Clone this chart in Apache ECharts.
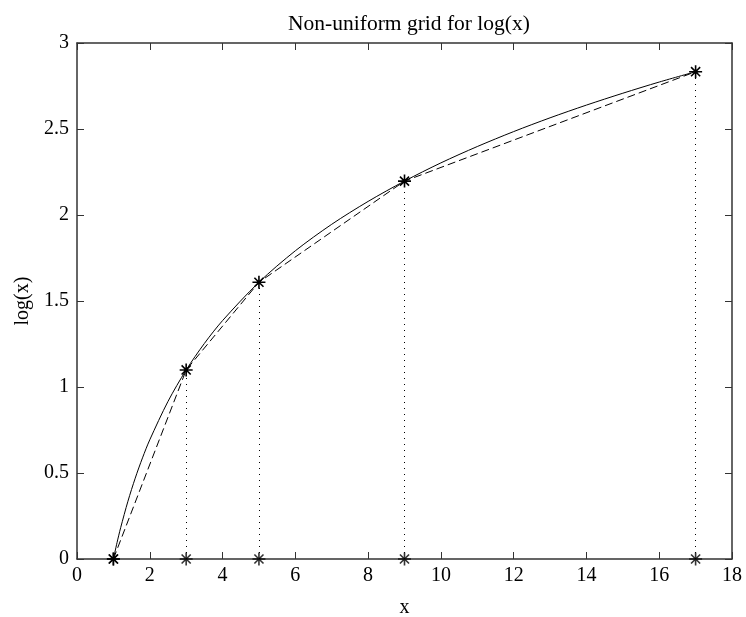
<!DOCTYPE html>
<html>
<head>
<meta charset="utf-8">
<script src="https://cdn.jsdelivr.net/npm/echarts@6/dist/echarts.min.js"></script>
<style>
  html, body { margin: 0; padding: 0; background: #fff; }
  #chart { width: 746px; height: 617px; }
</style>
</head>
<body>
<div id="chart"></div>
<script>
// smooth curve log(x)
const curveX = [1, 1.1, 1.2, 1.4, 1.6, 1.8, 2, 2.5, 3, 3.5, 4, 5, 6, 7, 8, 9, 10, 11, 12, 13, 14, 15, 16, 17];
const curveY = [0, 0.095, 0.182, 0.336, 0.47, 0.588, 0.693, 0.916, 1.099, 1.253, 1.386, 1.609, 1.792, 1.946, 2.079, 2.197, 2.303, 2.398, 2.485, 2.565, 2.639, 2.708, 2.773, 2.833];

// non-uniform grid points
const gridX = [1, 3, 5, 9, 17];
const gridY = [0, 1.099, 1.609, 2.197, 2.833];

const xTicks = [0, 2, 4, 6, 8, 10, 12, 14, 16, 18];
const yTicks = [0, 0.5, 1, 1.5, 2, 2.5, 3];

const font = 'Liberation Serif';
const axisColor = '#333';
const star = 'path://M0,-10L0,10M-10,0L10,0M-7,-7L7,7M-7,7L7,-7';

const dom = document.getElementById('chart');
const myChart = echarts.init(dom, null, { renderer: 'canvas' });

const curveData = curveX.map((x, i) => [x, curveY[i]]);
const gridData = gridX.map((x, i) => [x, gridY[i]]);
const baseData = gridX.map(x => [x, 0]);
const dropLines = gridX.slice(1).map((x, i) => [
  { coord: [x, 0] },
  { coord: [x, gridY[i + 1]] }
]);

const tickStyle = { show: true, inside: true, length: 7, lineStyle: { color: axisColor } };

const option = {
  animation: false,
  textStyle: { fontFamily: font, color: '#000' },
  title: {
    text: 'Non-uniform grid for log(x)',
    left: 404, top: 8, textAlign: 'center',
    textStyle: { fontFamily: font, fontSize: 21.5, fontWeight: 'normal', color: '#000' }
  },
  grid: { left: 77, right: 14, top: 43, bottom: 58, containLabel: false, outerBoundsMode: 'none' },
  xAxis: [
    {
      type: 'value', min: xTicks[0], max: xTicks[xTicks.length - 1], interval: 2,
      name: 'x', nameLocation: 'middle', nameGap: 39,
      nameTextStyle: { fontFamily: font, fontSize: 20, color: '#000' },
      axisLine: { onZero: false, lineStyle: { color: axisColor, width: 1.5 } },
      axisTick: tickStyle,
      axisLabel: { fontFamily: font, fontSize: 20, color: '#000', margin: 7 },
      splitLine: { show: false }
    },
    {
      type: 'value', position: 'top', min: xTicks[0], max: xTicks[xTicks.length - 1], interval: 2,
      axisLine: { onZero: false, lineStyle: { color: axisColor, width: 1.5 } },
      axisTick: tickStyle,
      axisLabel: { show: false },
      splitLine: { show: false }
    }
  ],
  yAxis: [
    {
      type: 'value', min: yTicks[0], max: yTicks[yTicks.length - 1], interval: 0.5,
      name: 'log(x)', nameLocation: 'middle', nameGap: 44, nameRotate: 90,
      nameTextStyle: { fontFamily: font, fontSize: 20, color: '#000' },
      axisLine: { show: true, onZero: false, lineStyle: { color: axisColor, width: 1.5 } },
      axisTick: tickStyle,
      axisLabel: { fontFamily: font, fontSize: 20, color: '#000', margin: 8 },
      splitLine: { show: false }
    },
    {
      type: 'value', position: 'right', min: yTicks[0], max: yTicks[yTicks.length - 1], interval: 0.5,
      axisLine: { show: true, onZero: false, lineStyle: { color: axisColor, width: 1.5 } },
      axisTick: tickStyle,
      axisLabel: { show: false },
      splitLine: { show: false }
    }
  ],
  series: [
    {
      name: 'log(x)',
      type: 'line',
      data: curveData,
      smooth: 0.3,
      showSymbol: false,
      lineStyle: { color: '#000', width: 1 }
    },
    {
      name: 'grid',
      type: 'line',
      data: gridData,
      symbol: star,
      symbolSize: 13,
      itemStyle: { color: 'none', borderColor: '#000', borderWidth: 1.6 },
      lineStyle: { color: '#000', width: 1, type: [8, 4] },
      markLine: {
        silent: true,
        symbol: 'none',
        label: { show: false },
        lineStyle: { color: '#000', width: 1, type: [1, 5] },
        data: dropLines
      }
    },
    {
      name: 'base',
      type: 'scatter',
      data: baseData,
      symbol: star,
      symbolSize: 13,
      itemStyle: { color: 'none', borderColor: '#000', borderWidth: 1.6 }
    }
  ]
};

myChart.setOption(option);
</script>
</body>
</html>
